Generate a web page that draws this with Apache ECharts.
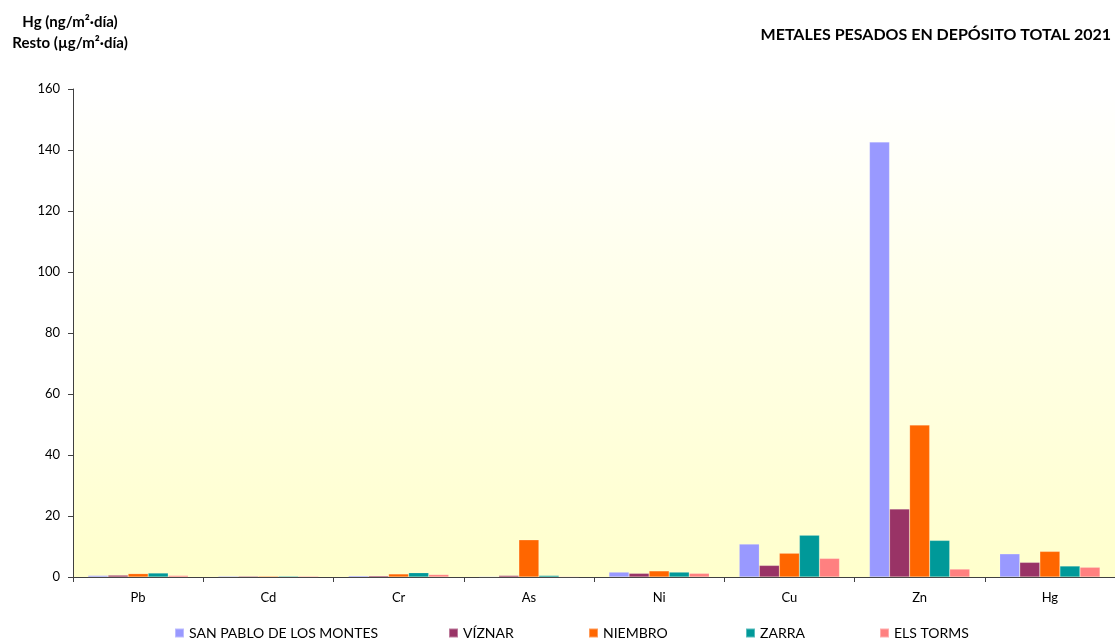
<!DOCTYPE html>
<html><head><meta charset="utf-8">
<script src="https://cdn.jsdelivr.net/npm/echarts@6/dist/echarts.min.js"></script>
<style>html,body{margin:0;padding:0;background:#fff}#c{width:1115px;height:641px}</style>
</head><body><div id="c"></div>
<script>
const categories = ['Pb','Cd','Cr','As','Ni','Cu','Zn','Hg'];
const seriesNames = ['SAN PABLO DE LOS MONTES','VÍZNAR','NIEMBRO','ZARRA','ELS TORMS'];
const sanPablo = [0.5, 0.3, 0.4, 0.2, 1.6, 10.8, 142.6, 7.6];
const viznar   = [0.6, 0.3, 0.4, 0.5, 1.2, 3.8, 22.3, 4.8];
const niembro  = [1.1, 0.3, 1.0, 12.2, 2.0, 7.8, 49.8, 8.4];
const zarra    = [1.3, 0.3, 1.4, 0.5, 1.6, 13.7, 12.0, 3.6];
const elsTorms = [0.5, 0.3, 0.8, 0.2, 1.2, 6.1, 2.6, 3.2];
const yTicks = [0, 20, 40, 60, 80, 100, 120, 140, 160];
const colors = ['#9999FF','#993366','#FF6600','#009999','#FF8080'];
const dataSets = [sanPablo, viznar, niembro, zarra, elsTorms];
const legendLeft = [174, 448, 588, 745, 879];
const FONT = 'Lato, "Open Sans", sans-serif';

const chart = echarts.init(document.getElementById('c'), null, {renderer:'canvas'});
chart.setOption({
  animation: false,
  textStyle: {fontFamily: FONT},
  title: [{
    text: 'METALES PESADOS EN DEPÓSITO TOTAL 2021',
    right: -1, top: 22,
    textStyle: {fontFamily: FONT, fontWeight: 'bold', fontSize: 16, color: '#000'}
  },{
    text: 'Hg (ng/m²·día)\nResto (µg/m²·día)',
    left: 65, top: 7, textAlign: 'center',
    textStyle: {fontFamily: FONT, fontWeight: 'bold', fontSize: 15, color: '#000', lineHeight: 21}
  }],
  legend: seriesNames.map((n, i) => ({
    top: 626, left: legendLeft[i], padding: 0,
    itemWidth: 9, itemHeight: 9, itemGap: 0,
    icon: 'rect',
    textStyle: {fontFamily: FONT, fontSize: 14, color: '#000'},
    data: [n]
  })),
  grid: {
    left: 73, right: 0, top: 89, bottom: 64,
    show: true, borderWidth: 0,
    backgroundColor: {type:'linear', x:0, y:0, x2:0, y2:1,
      colorStops:[{offset:0,color:'#FFFFFF'},{offset:1,color:'#FFFFCC'}]}
  },
  xAxis: {
    type: 'category', data: categories,
    axisLine: {lineStyle: {color: '#404040', width: 1}},
    axisTick: {show: true, length: 5, lineStyle:{color:'#404040'}},
    axisLabel: {fontFamily: FONT, fontSize: 13, color: '#000', margin: 14}
  },
  yAxis: {
    type: 'value', min: yTicks[0], max: yTicks[yTicks.length-1], interval: 20,
    axisLine: {show: true, lineStyle: {color: '#404040'}},
    axisTick: {show: true, length: 5, lineStyle:{color:'#404040'}},
    splitLine: {show: false},
    axisLabel: {fontFamily: FONT, fontSize: 13, color: '#000', margin: 13}
  },
  series: seriesNames.map((n, i) => ({
    name: n, type: 'bar', data: dataSets[i],
    barGap: '0%', barCategoryGap: '23%',
    itemStyle: {color: colors[i], borderColor: 'rgba(255,255,255,0.35)', borderWidth: 0.5}
  }))
});
</script></body></html>
